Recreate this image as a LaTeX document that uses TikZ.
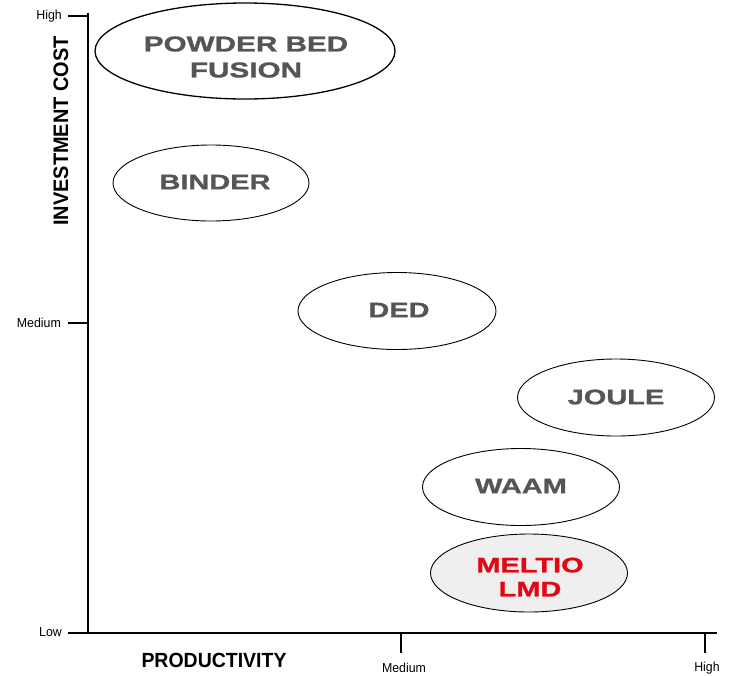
\documentclass[tikz,border=0pt]{standalone}
\usepackage{fontspec}
\setmainfont{Liberation Sans}
\newfontfamily\extfont[FakeStretch=1.38,FakeBold=1.2]{Liberation Sans Bold}
\newfontfamily\axfont[FakeStretch=0.95]{Liberation Sans Bold}
\newfontfamily\tickfont[FakeStretch=0.95]{Liberation Sans}
\usetikzlibrary{shapes.geometric}
\definecolor{txtgray}{HTML}{555555}
\definecolor{meltred}{HTML}{E30613}
\definecolor{meltfill}{HTML}{EFEFEF}
\begin{document}
\begin{tikzpicture}[x=1pt,y=-1pt,
  axis/.style={line width=2.6pt},
  blob/.style={draw, line width=0.9pt},
  lbl/.style={font=\extfont\fontsize{21}{22}\selectfont, text=txtgray, align=center},
  ticklbl/.style={font=\tickfont\fontsize{13}{14}\selectfont, inner sep=0pt}]
\useasboundingbox (0,0) rectangle (735,675);
% ellipses
\draw[blob, line width=1.3pt] (245,51) ellipse [x radius=150, y radius=48];
\draw[blob] (211,183) ellipse [x radius=98, y radius=38];
\draw[blob] (397,311) ellipse [x radius=99, y radius=38.5];
\draw[blob] (616,397.5) ellipse [x radius=98.5, y radius=38.5];
\draw[blob] (521,487) ellipse [x radius=98.5, y radius=38.5];
\draw[blob, fill=meltfill] (529,573) ellipse [x radius=98.5, y radius=39];
\node[lbl, font=\extfont\fontsize{21.5}{26}\selectfont] (pbf) at (246,57) {POWDER BED\\FUSION};
\node[lbl] (binder) at (215,182) {BINDER};
\node[lbl] (ded) at (399,310) {DED};
\node[lbl] (joule) at (616,397) {JOULE};
\node[lbl] (waam) at (521,486) {WAAM};
\node[lbl, text=meltred, font=\extfont\fontsize{21}{24}\selectfont] (meltio) at (530,577) {MELTIO\\LMD};
% axes
\coordinate (o) at (88,633);
\coordinate (ytop) at (88,13);
\coordinate (xend) at (717,633);
\draw[axis] (ytop) -- (o) -- (xend);
\coordinate (th1) at (68,16); \coordinate (th2) at (88,16);
\coordinate (tm1) at (68,323); \coordinate (tm2) at (88,323);
\coordinate (tl1) at (68,633);
\coordinate (bm1) at (401,633); \coordinate (bm2) at (401,653);
\coordinate (bh1) at (705,633); \coordinate (bh2) at (705,653);
\draw[axis] (th1) -- (th2);
\draw[axis] (tm1) -- (tm2);
\draw[axis] (tl1) -- (o);
\draw[axis] (bm1) -- (bm2);
\draw[axis] (bh1) -- (bh2);
\node[ticklbl, anchor=east] (hi) at (62,16) {High};
\node[ticklbl, anchor=east] (med) at (61,323) {Medium};
\node[ticklbl, anchor=east] (low) at (62,632) {Low};
\node[ticklbl] (bmed) at (404,668) {Medium};
\node[ticklbl] (bhi) at (707,668) {High};
\node[font=\axfont\fontsize{21}{22}\selectfont, rotate=90, inner sep=0pt] (ylab) at (61,131) {INVESTMENT COST};
\node[font=\axfont\fontsize{20.5}{22}\selectfont, inner sep=0pt] (xlab) at (214,660) {PRODUCTIVITY};
\end{tikzpicture}
\end{document}
